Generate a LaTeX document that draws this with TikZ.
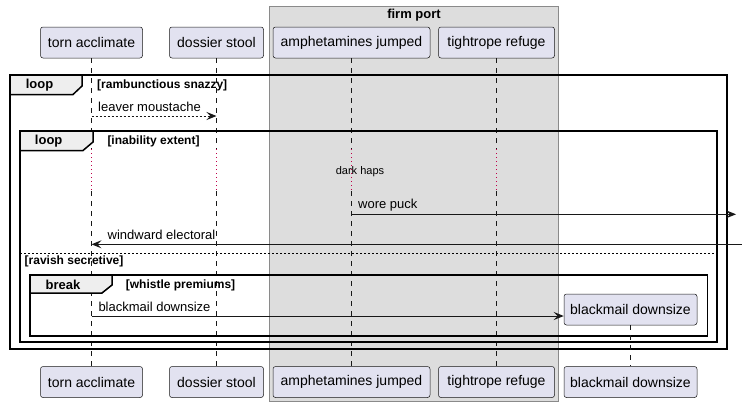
\documentclass[tikz,border=0pt]{standalone}
\usepackage{fontspec}
\setmainfont{Liberation Sans}
\usetikzlibrary{arrows.meta}
\definecolor{partfill}{HTML}{E2E2F0}
\definecolor{partline}{HTML}{181818}
\definecolor{grpfill}{HTML}{DDDDDD}
\definecolor{grpline}{HTML}{8A8A8A}
\definecolor{tabfill}{HTML}{EEEEEE}
\definecolor{delayred}{HTML}{C0004A}
\tikzset{
  part/.style={draw=partline, fill=partfill, rounded corners=2.5pt, line width=0.5pt,
    minimum height=31pt, inner xsep=2pt, inner ysep=0pt, font=\fontsize{14}{16}\selectfont},
  life/.style={draw=partline, line width=0.5pt, dash pattern=on 5pt off 5pt},
  delayline/.style={draw=delayred, line width=1pt, dash pattern=on 1pt off 3pt},
  msg/.style={draw=partline, line width=1pt, -{Stealth[length=10pt,width=8pt,inset=4pt]}},
  dmsg/.style={msg, dash pattern=on 2pt off 2pt},
  frame/.style={draw=black, line width=1.5pt},
  tab/.style={draw=black, line width=1.5pt, fill=tabfill},
  tabtext/.style={font=\fontsize{13}{15}\selectfont\bfseries, inner sep=0pt},
  cond/.style={font=\fontsize{12}{14}\selectfont\bfseries, anchor=west, inner sep=0pt},
  msgtext/.style={font=\fontsize{13}{15}\selectfont, anchor=west, inner sep=0pt},
}
\begin{document}
\begin{tikzpicture}[x=1pt,y=-1pt]
\useasboundingbox (0,0) rectangle (742,407);
% group box
\filldraw[fill=grpfill, draw=grpline, line width=1pt] (269.5,6) rectangle (558.5,401.5);
\node[tabtext] (fp) at (414,15) {firm port};
% participants top
\node[part, minimum width=102pt] (ta) at (91.5,42.5) {torn acclimate};
\node[part, minimum width=94pt] (ds) at (216.5,42.5) {dossier stool};
\node[part, minimum width=157pt] (aj) at (351.5,42.5) {amphetamines jumped};
\node[part, minimum width=116pt] (tr) at (496.5,42.5) {tightrope refuge};
% participants bottom
\node[part, minimum width=102pt] (tab) at (91.5,382) {torn acclimate};
\node[part, minimum width=94pt] (dsb) at (216.5,382) {dossier stool};
\node[part, minimum width=157pt] (ajb) at (351.5,382) {amphetamines jumped};
\node[part, minimum width=116pt] (trb) at (496.5,382) {tightrope refuge};
\node[part, minimum width=133pt] (bdb) at (630.5,382) {blackmail downsize};
% lifelines with delay
\foreach \t/\b in {ta/tab, ds/dsb, aj/ajb, tr/trb}{
  \coordinate (\t d1) at (\t.south |- 0,149);
  \coordinate (\t d2) at (\t.south |- 0,191);
  \draw[life] (\t.south) -- (\t d1);
  \draw[delayline] (\t d1) -- (\t d2);
  \draw[life] (\t d2) -- (\b.north);
}
\node[font=\fontsize{11}{13}\selectfont, inner sep=0pt] (dh) at (360,171.5) {dark haps};
% outer loop
\draw[frame] (10,75) rectangle (727,349);
\draw[tab] (10,75) -- (82,75) -- (82,86) -- (73,94.5) -- (10,94.5) -- cycle;
\node[tabtext] (l1) at (39.5,85) {loop};
\node[cond] (c1) at (97,85) {[rambunctious snazzy]};
% leaver moustache
\coordinate (m1a) at (ta.south |- 0,116);
\coordinate (m1b) at (ds.south |- 0,116);
\draw[dmsg] (m1a) -- (m1b);
\node[msgtext] (t1) at (98,107) {leaver moustache};
% inner loop
\draw[frame] (20,131) rectangle (717,342);
\draw[tab] (20,131) -- (93,131) -- (93,142) -- (83,150.5) -- (20,150.5) -- cycle;
\node[tabtext] (l2) at (48.7,141.5) {loop};
\node[cond] (c2) at (107.3,141.5) {[inability extent]};
% wore puck
\coordinate (m2a) at (aj.south |- 0,214.3);
\coordinate (m2b) at (736,214.3);
\draw[msg] (m2a) -- (m2b);
\node[msgtext] (t2) at (358,205) {wore puck};
% windward electoral
\coordinate (m3a) at (742,244.3);
\coordinate (m3b) at (ta.south |- 0,244.3);
\draw[msg] (m3a) -- (m3b);
\node[msgtext] (t3) at (107.5,235) {windward electoral};
% separator
\draw[draw=black, line width=1pt, dash pattern=on 2pt off 2pt] (20,253.3) -- (717,253.3);
\node[cond] (c3) at (24.5,261.5) {[ravish secretive]};
% break
\draw[frame] (30,275) rectangle (707.5,336);
\draw[tab] (30,275) -- (112,275) -- (112,285) -- (102,293) -- (30,293) -- cycle;
\node[tabtext] (l3) at (63,285) {break};
\node[cond] (c4) at (125.7,285) {[whistle premiums]};
% created participant
\node[part, minimum width=133pt] (bd) at (630.5,309.5) {blackmail downsize};
\draw[life] (bd.south) -- (bdb.north);
\coordinate (m4a) at (ta.south |- 0,316);
\draw[msg] (m4a) -- (bd.west |- 0,316);
\node[msgtext] (t4) at (98.3,306.5) {blackmail downsize};
\end{tikzpicture}
\end{document}
